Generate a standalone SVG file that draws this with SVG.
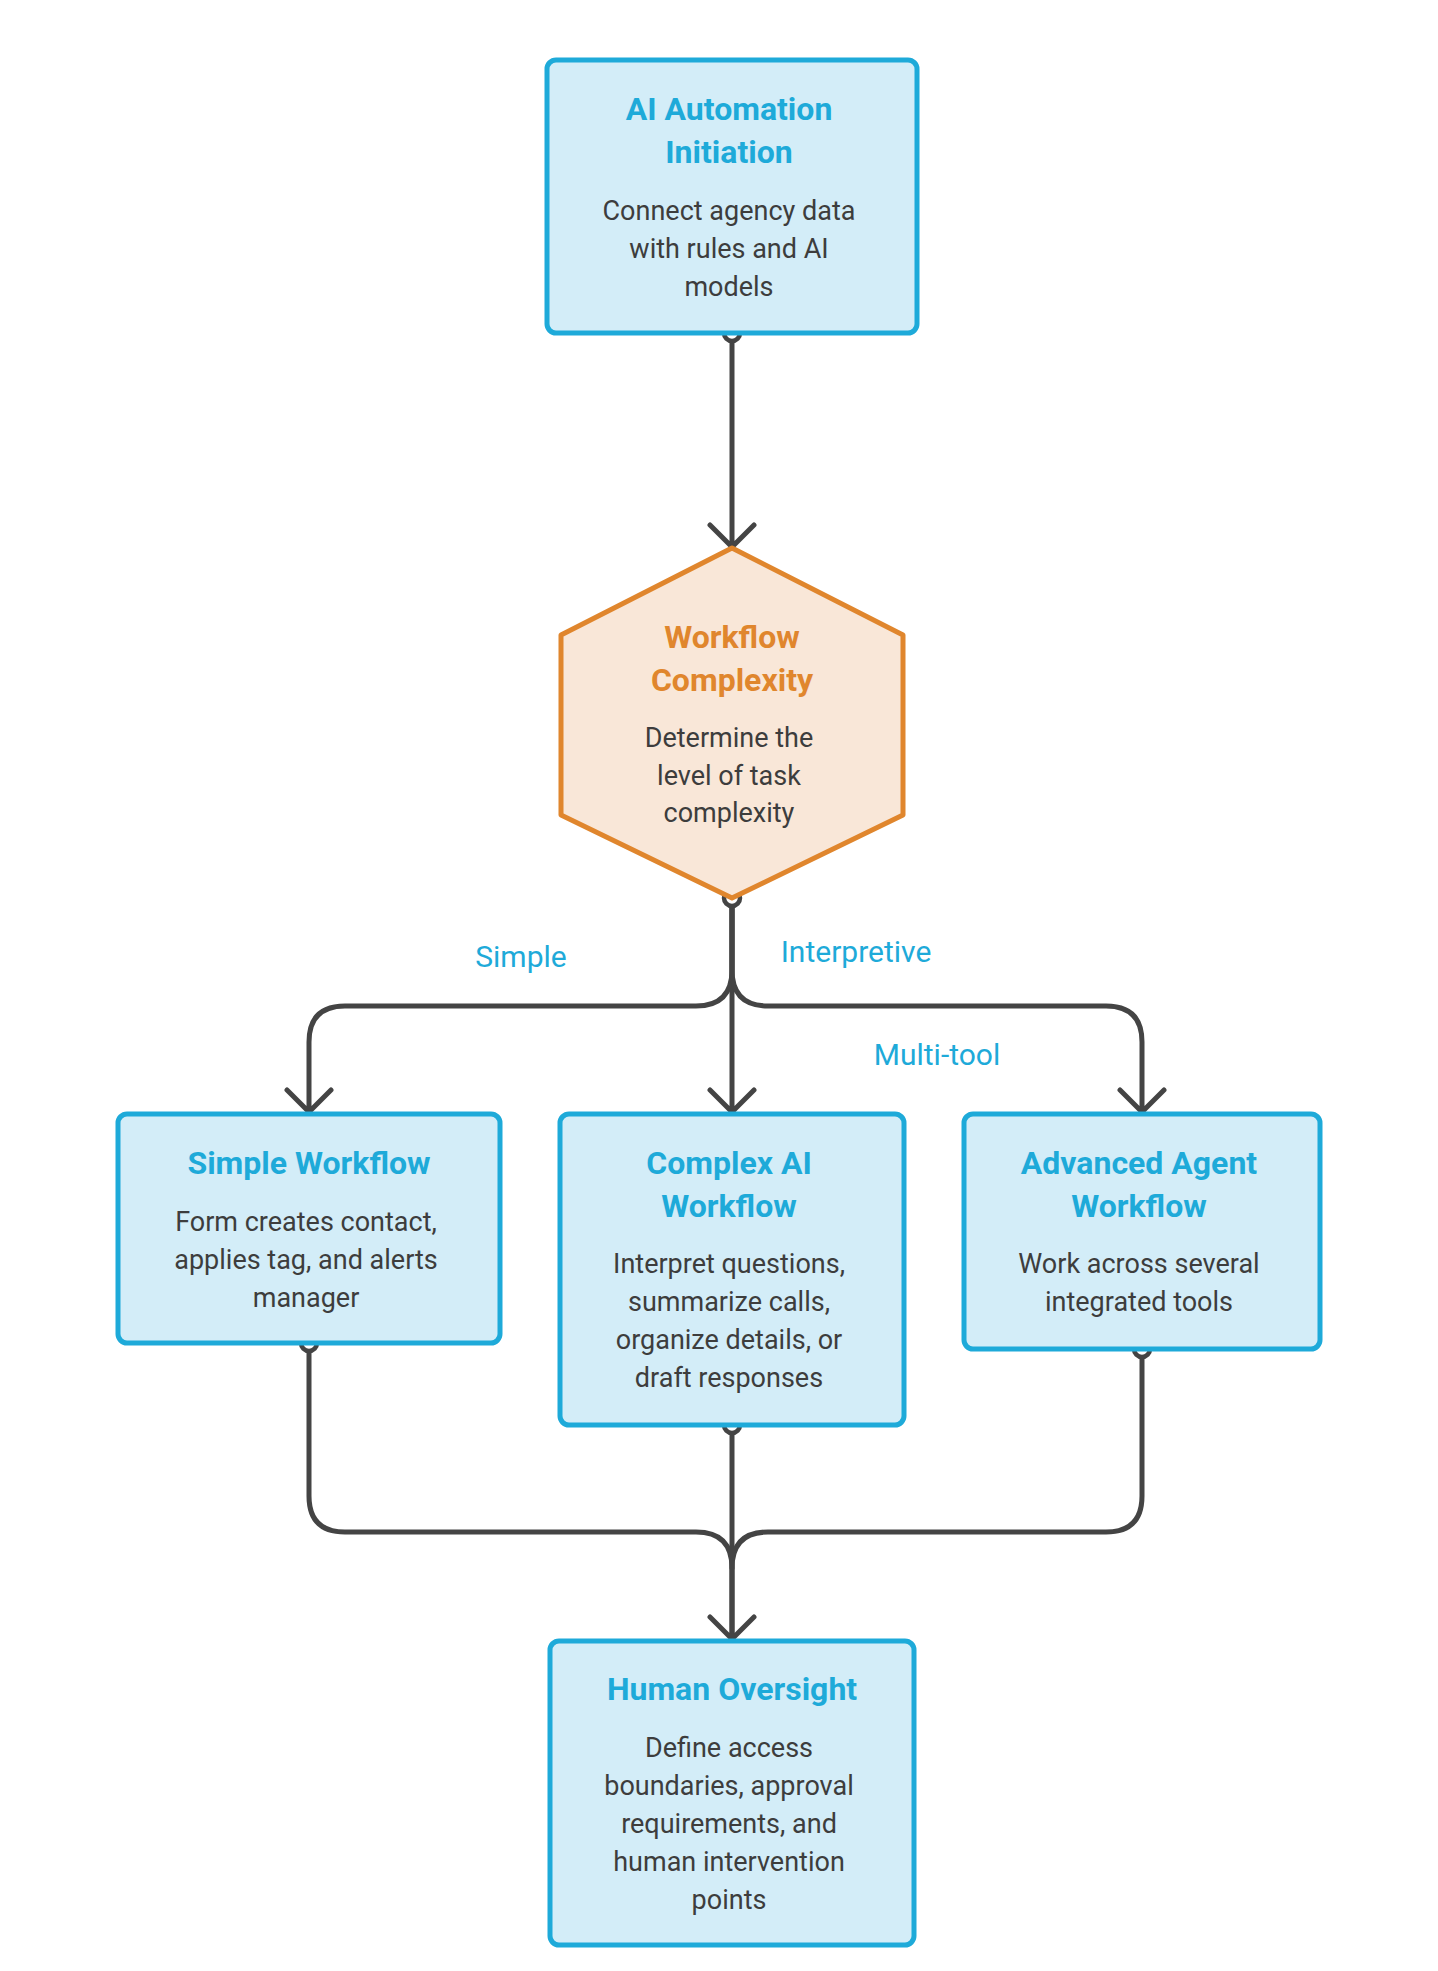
<svg xmlns="http://www.w3.org/2000/svg" width="1438" height="1971" viewBox="0 0 1438 1971">
<style>
.box{fill:#D3EDF8;stroke:#1EAAD9;stroke-width:5}
.t{font-family:Roboto,"Liberation Sans",sans-serif;font-weight:bold;font-size:32px;fill:#1EAAD9;text-anchor:middle}
.b{font-family:Roboto,"Liberation Sans",sans-serif;font-size:27px;fill:#3d3d3d;text-anchor:middle}
.lbl{font-family:Roboto,"Liberation Sans",sans-serif;font-size:30px;fill:#1EAAD9;text-anchor:middle}
.c{fill:none;stroke:#444;stroke-width:5;stroke-linecap:round;stroke-linejoin:round}
.dot{fill:#fff;stroke:#444;stroke-width:4.5}
</style>
<rect width="1438" height="1971" fill="#fff"/>
<g id="connectors">
<path class="c" d="M732 333V546M710 525L732 547L754 525"/>
<path class="c" d="M732 898V970Q732 1006 696 1006H345Q309 1006 309 1042V1111M287 1090L309 1112L331 1090"/>
<path class="c" d="M732 898V1111M710 1090L732 1112L754 1090"/>
<path class="c" d="M732 898V970Q732 1006 768 1006H1106Q1142 1006 1142 1042V1111M1120 1090L1142 1112L1164 1090"/>
<path class="c" d="M309 1343V1496Q309 1532 345 1532H696Q732 1532 732 1568V1638"/>
<path class="c" d="M1142 1349V1496Q1142 1532 1106 1532H768Q732 1532 732 1568"/>
<path class="c" d="M732 1425V1638M710 1617L732 1639L754 1617"/>
<circle class="dot" cx="732" cy="333" r="8"/>
<circle class="dot" cx="732" cy="898" r="8"/>
<circle class="dot" cx="309" cy="1343" r="8"/>
<circle class="dot" cx="732" cy="1425" r="8"/>
<circle class="dot" cx="1142" cy="1349" r="8"/>
<text class="lbl" x="521" y="967">Simple</text>
<text class="lbl" x="856" y="962">Interpretive</text>
<text class="lbl" x="937" y="1065">Multi-tool</text>
</g>
<g id="initiation">
<rect class="box" x="547" y="60" width="370" height="273" rx="9"/>
<text class="t" x="729" y="120">AI Automation</text>
<text class="t" x="729" y="163">Initiation</text>
<text class="b" x="729" y="220">Connect agency data</text>
<text class="b" x="729" y="258">with rules and AI</text>
<text class="b" x="729" y="296">models</text>
</g>
<g id="complexity">
<polygon points="732,548 903,635 903,815 732,898 561,815 561,635" fill="#F9E7D8" stroke="#E0862D" stroke-width="5" stroke-linejoin="round"/>
<text class="t" x="732" y="648" style="fill:#E0862D">Workflow</text>
<text class="t" x="732" y="691" style="fill:#E0862D">Complexity</text>
<text class="b" x="729" y="747">Determine the</text>
<text class="b" x="729" y="785">level of task</text>
<text class="b" x="729" y="822">complexity</text>
</g>
<g id="simple">
<rect class="box" x="118" y="1114" width="382" height="229" rx="9"/>
<text class="t" x="309" y="1174">Simple Workflow</text>
<text class="b" x="306" y="1231">Form creates contact,</text>
<text class="b" x="306" y="1269">applies tag, and alerts</text>
<text class="b" x="306" y="1307">manager</text>
</g>
<g id="complexai">
<rect class="box" x="560" y="1114" width="344" height="311" rx="9"/>
<text class="t" x="729" y="1174">Complex AI</text>
<text class="t" x="729" y="1217">Workflow</text>
<text class="b" x="729" y="1273">Interpret questions,</text>
<text class="b" x="729" y="1311">summarize calls,</text>
<text class="b" x="729" y="1349">organize details, or</text>
<text class="b" x="729" y="1387">draft responses</text>
</g>
<g id="advanced">
<rect class="box" x="964" y="1114" width="356" height="235" rx="9"/>
<text class="t" x="1139" y="1174">Advanced Agent</text>
<text class="t" x="1139" y="1217">Workflow</text>
<text class="b" x="1139" y="1273">Work across several</text>
<text class="b" x="1139" y="1311">integrated tools</text>
</g>
<g id="oversight">
<rect class="box" x="550" y="1641" width="364" height="304" rx="9"/>
<text class="t" x="732" y="1700">Human Oversight</text>
<text class="b" x="729" y="1757">Define access</text>
<text class="b" x="729" y="1795">boundaries, approval</text>
<text class="b" x="729" y="1833">requirements, and</text>
<text class="b" x="729" y="1871">human intervention</text>
<text class="b" x="729" y="1909">points</text>
</g>
</svg>
